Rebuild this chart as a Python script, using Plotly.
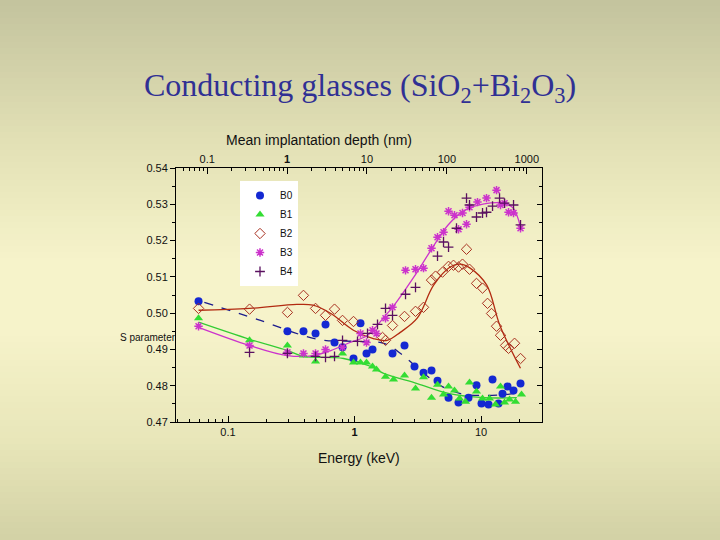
import plotly.graph_objects as go

# ---------------- data ----------------
b0_e = [0.0585, 0.295, 0.395, 0.492, 0.590, 0.695, 0.804, 0.982, 1.115, 1.244, 1.388, 1.997, 2.485, 2.981,
        3.512, 4.061, 4.530, 5.536, 6.64, 7.96, 9.21, 10.09, 11.47, 12.33, 13.75, 14.79, 16.20, 18.07, 20.52]
b0_s = [0.5033, 0.4950, 0.4950, 0.4944, 0.4969, 0.4919, 0.4906, 0.4875, 0.4972, 0.4889, 0.4900, 0.4889, 0.4911, 0.4853,
        0.4836, 0.4842, 0.4814, 0.4767, 0.4754, 0.4767, 0.4801, 0.4751, 0.4748, 0.4817, 0.4751, 0.4778, 0.4798, 0.4787, 0.4806]

b1_e = [0.0585, 0.148, 0.295, 0.395, 0.492, 0.804, 0.982, 1.115, 1.244, 1.388, 1.492, 1.758, 2.034, 2.485, 3.035, 3.512,
        4.061, 4.530, 5.053, 5.536, 6.17, 6.76, 7.54, 8.11, 9.21, 10.28, 11.67, 13.02, 14.26, 15.34, 16.80, 18.74, 20.90]
b1_s = [0.4986, 0.4925, 0.4911, 0.4883, 0.4867, 0.4889, 0.4864, 0.4864, 0.4864, 0.4853, 0.4845, 0.4825, 0.4817, 0.4828, 0.4792, 0.4823,
        0.4767, 0.4803, 0.4776, 0.4798, 0.4787, 0.4765, 0.4756, 0.4809, 0.4784, 0.4765, 0.4765, 0.4748, 0.4798, 0.4754, 0.4762, 0.4756, 0.4776]

b2_e = [0.0585, 0.148, 0.295, 0.395, 0.492, 0.590, 0.695, 0.804, 0.982, 1.665, 1.758, 1.997, 2.485, 3.035, 3.512, 4.061, 4.37,
        4.96, 5.536, 6.06, 6.64, 7.14, 7.68, 8.11, 9.21, 10.28, 11.26, 12.11, 13.26, 14.26, 15.62, 16.50, 18.41, 20.52]
b2_s = [0.5013, 0.5011, 0.5002, 0.5049, 0.5013, 0.4994, 0.5011, 0.4980, 0.4977, 0.4933, 0.4925, 0.4966, 0.4991, 0.5005, 0.5016, 0.5091, 0.5102,
        0.5113, 0.5129, 0.5132, 0.5127, 0.5135, 0.5176, 0.5121, 0.5082, 0.5069, 0.5027, 0.4999, 0.4964, 0.4939, 0.4911, 0.4903, 0.4917, 0.4875]

b3_e = [0.0585, 0.148, 0.295, 0.395, 0.492, 0.590, 0.804, 1.115, 1.244, 1.388, 1.492, 1.758, 1.997, 2.531, 3.035, 3.512, 4.061,
        4.530, 5.053, 5.536, 6.17, 6.64, 7.14, 7.68, 8.11, 9.38, 11.05, 13.26, 14.26, 15.34, 16.50, 18.07, 20.52]
b3_s = [0.4964, 0.4911, 0.4892, 0.4889, 0.4889, 0.4900, 0.4906, 0.4944, 0.4919, 0.4953, 0.4944, 0.4986, 0.5016, 0.5118, 0.5121, 0.5124, 0.5179,
        0.5209, 0.5223, 0.5281, 0.5270, 0.5231, 0.5276, 0.5245, 0.5292, 0.5306, 0.5317, 0.5339, 0.5298, 0.5303, 0.5278, 0.5276, 0.5234]

b4_e = [0.148, 0.295, 0.492, 0.590, 0.695, 0.804, 1.056, 1.267, 1.520, 1.758, 1.997, 2.531, 3.035, 4.530, 5.053, 5.536,
        6.40, 7.68, 8.11, 9.21, 10.28, 11.05, 12.33, 14.01, 15.34, 18.07, 20.52]
b4_s = [0.4892, 0.4889, 0.4881, 0.4878, 0.4881, 0.4925, 0.4922, 0.4944, 0.4969, 0.5013, 0.4994, 0.5052, 0.5071, 0.5157, 0.5196, 0.5182,
        0.5234, 0.5317, 0.5298, 0.5265, 0.5276, 0.5278, 0.5295, 0.5317, 0.5303, 0.5298, 0.5243]

# fitted curves
fit0_e = [0.065, 0.17, 0.51, 1.03, 1.70, 2.37, 3.32, 4.75, 6.9, 10.8, 18.4]
fit0_s = [0.5030, 0.4983, 0.4928, 0.4922, 0.4917, 0.4886, 0.4842, 0.4801, 0.4778, 0.4773, 0.4778]
fit1_e = [0.0585, 0.148, 0.295, 0.395, 0.82, 1.35, 1.70, 3.13, 5.63, 10.6, 19.2]
fit1_s = [0.4975, 0.4928, 0.4897, 0.4881, 0.4875, 0.4853, 0.4834, 0.4806, 0.4778, 0.4767, 0.4767]
fit2_e = [0.0585, 0.148, 0.35, 0.47, 0.65, 0.98, 1.41, 1.81, 2.30, 3.13, 4.22, 5.70, 6.8, 8.2, 11.1, 14.1, 20.5]
fit2_s = [0.5008, 0.5013, 0.5024, 0.5022, 0.4999, 0.4953, 0.4930, 0.4925, 0.4947, 0.4986, 0.5077, 0.5127, 0.5135, 0.5124, 0.5077, 0.4966, 0.4848]
fit3_e = [0.0585, 0.148, 0.295, 0.47, 0.65, 0.89, 1.27, 1.76, 2.0, 2.94, 4.01, 5.49, 7.47, 10.6, 14.8, 17.9, 20.5]
fit3_s = [0.4961, 0.4911, 0.4883, 0.4883, 0.4897, 0.4917, 0.4939, 0.4994, 0.5016, 0.5099, 0.5173, 0.5243, 0.5284, 0.5301, 0.5303, 0.5290, 0.5237]

names = ["B0", "B1", "B2", "B3", "B4"]
bottom_ticks = [0.1, 1, 10]
bottom_labels = ["0.1", "<b>1</b>", "10"]
top_ticks = [0.1, 1, 10, 100, 1000]
top_labels = ["0.1", "<b>1</b>", "10", "100", "1000"]
y_ticks = [0.47, 0.48, 0.49, 0.50, 0.51, 0.52, 0.53, 0.54]
y_labels = ["0.47", "0.48", "0.49", "0.50", "0.51", "0.52", "0.53", "0.54"]

# ---------------- figure ----------------
W, H = 720, 540
L, R, T, B = 176, 542, 168, 422
FONT = "Liberation Sans, Arial, sans-serif"

def log_minor(lo_dec, hi_dec, lo, hi):
    vals = []
    for d in range(lo_dec, hi_dec + 1):
        for m in range(2, 10):
            v = m * 10.0 ** d
            if lo <= v <= hi:
                vals.append(v)
    return vals

bottom_minor = log_minor(-2, 1, 0.039, 30)
top_minor = log_minor(-2, 3, 0.041, 1500)

fig = go.Figure()

# fit lines
fig.add_trace(go.Scatter(x=fit0_e, y=fit0_s, mode="lines", line=dict(color="#1c1c8c", width=1.3, dash="dash", shape="spline"),
                         showlegend=False, hoverinfo="skip"))
fig.add_trace(go.Scatter(x=fit1_e, y=fit1_s, mode="lines", line=dict(color="#33cc33", width=1.3, shape="spline"),
                         showlegend=False, hoverinfo="skip"))
fig.add_trace(go.Scatter(x=fit2_e, y=fit2_s, mode="lines", line=dict(color="#b22a10", width=1.3, shape="spline"),
                         showlegend=False, hoverinfo="skip"))
fig.add_trace(go.Scatter(x=fit3_e, y=fit3_s, mode="lines", line=dict(color="#cc33cc", width=1.3, shape="spline"),
                         showlegend=False, hoverinfo="skip"))

# data points
fig.add_trace(go.Scatter(x=b0_e, y=b0_s, mode="markers", name=names[0],
                         marker=dict(symbol="circle", size=8, color="#1428d2")))
fig.add_trace(go.Scatter(x=b1_e, y=b1_s, mode="markers", name=names[1],
                         marker=dict(symbol="triangle-up", size=8, color="#33dd33")))
fig.add_trace(go.Scatter(x=b2_e, y=b2_s, mode="markers", name=names[2],
                         marker=dict(symbol="diamond-open", size=8, color="#a83020", line=dict(width=1))))
fig.add_trace(go.Scatter(x=b3_e, y=b3_s, mode="markers", name=names[3],
                         marker=dict(symbol="asterisk-open", size=7, color="#cc33cc", line=dict(width=1.5, color="#cc33cc"))))
fig.add_trace(go.Scatter(x=b4_e, y=b4_s, mode="markers", name=names[4],
                         marker=dict(symbol="cross-thin-open", size=7, color="#5a1060", line=dict(width=1.3, color="#5a1060"))))

# dummy traces to activate top x axis and right y axis
fig.add_trace(go.Scatter(x=[1], y=[0.5], xaxis="x2", yaxis="y", mode="markers", marker=dict(opacity=0),
                         showlegend=False, hoverinfo="skip"))
fig.add_trace(go.Scatter(x=[1], y=[0.5], xaxis="x", yaxis="y2", mode="markers", marker=dict(opacity=0),
                         showlegend=False, hoverinfo="skip"))

# background gradient bands
def lerp(c1, c2, t):
    return tuple(round(a + (b - a) * t) for a, b in zip(c1, c2))

stops = [(0, (195, 195, 158)), (150, (228, 226, 182)), (260, (246, 243, 202)), (330, (246, 243, 202)),
         (440, (232, 230, 185)), (540, (210, 209, 165))]

def col_at(py):
    for (p0, c0), (p1, c1) in zip(stops[:-1], stops[1:]):
        if p0 <= py <= p1:
            return lerp(c0, c1, (py - p0) / (p1 - p0))
    return stops[-1][1]

shapes = []
pw, ph = R - L, B - T
step = 6
for py in range(0, H, step):
    c = col_at(py + step / 2)
    shapes.append(dict(type="rect", xref="paper", yref="paper", layer="below",
                       x0=(0 - L) / pw - 0.05, x1=(W - L) / pw + 0.05,
                       y0=(B - (py + step + 1)) / ph, y1=(B - py) / ph,
                       fillcolor="rgb(%d,%d,%d)" % c, line=dict(width=0)))

xr = [-1.411, 1.482]
fig.update_layout(
    width=W, height=H,
    margin=dict(l=L, r=W - R, t=T, b=H - B),
    paper_bgcolor="rgb(228,226,182)", plot_bgcolor="rgba(0,0,0,0)",
    font=dict(family=FONT, size=11, color="#111111"),
    shapes=shapes,
    xaxis=dict(type="log", range=xr, showgrid=False, zeroline=False, showline=True, linecolor="black", linewidth=1,
               ticks="inside", ticklen=6, tickcolor="black", tickvals=bottom_ticks, ticktext=bottom_labels,
               tickfont=dict(size=11),
               minor=dict(ticks="inside", ticklen=3, tickcolor="black", tickvals=bottom_minor, showgrid=False)),
    xaxis2=dict(type="log", range=[-1.39, 3.19], overlaying="x", side="top", showgrid=False, zeroline=False,
                showline=True, linecolor="black", linewidth=1, ticks="inside", ticklen=6, tickcolor="black",
                tickvals=top_ticks, ticktext=top_labels, tickfont=dict(size=11),
                minor=dict(ticks="inside", ticklen=3, tickcolor="black", tickvals=top_minor, showgrid=False)),
    yaxis=dict(range=[0.47, 0.54], showgrid=False, zeroline=False, showline=True, linecolor="black", linewidth=1,
               ticks="outside", ticklen=5, tickcolor="black", tickvals=y_ticks, ticktext=y_labels, tickfont=dict(size=11),
               minor=dict(ticks="outside", ticklen=3, tickcolor="black", dtick=0.005, showgrid=False)),
    yaxis2=dict(range=[0.47, 0.54], overlaying="y", side="right", showgrid=False, zeroline=False, showline=True,
                linecolor="black", linewidth=1, ticks="inside", ticklen=5, tickcolor="black", tickvals=y_ticks,
                showticklabels=False, minor=dict(ticks="inside", ticklen=3, tickcolor="black", dtick=0.005, showgrid=False)),
    legend=dict(x=(240 - L) / pw, y=(B - 181) / ph, xanchor="left", yanchor="top", bgcolor="white",
                borderwidth=0, font=dict(size=10, family=FONT), itemwidth=30, tracegroupgap=0),
    showlegend=True,
)

fig.add_annotation(text="Conducting glasses (SiO<sub>2</sub>+Bi<sub>2</sub>O<sub>3</sub>)", xref="paper", yref="paper",
                   x=(360 - L) / pw, y=(B - 88) / ph, xanchor="center", yanchor="middle", showarrow=False,
                   font=dict(family="Liberation Serif, Times New Roman, serif", size=32, color="#303094"))
fig.add_annotation(text="Mean implantation depth (nm)", xref="paper", yref="paper",
                   x=(319 - L) / pw, y=(B - 140) / ph, xanchor="center", yanchor="middle", showarrow=False,
                   font=dict(family=FONT, size=14, color="#111111"))
fig.add_annotation(text="Energy (keV)", xref="paper", yref="paper",
                   x=(359 - L) / pw, y=(B - 458) / ph, xanchor="center", yanchor="middle", showarrow=False,
                   font=dict(family=FONT, size=14, color="#111111"))
fig.add_annotation(text="S parameter", xref="paper", yref="paper",
                   x=(148 - L) / pw, y=(B - 337) / ph, xanchor="center", yanchor="middle", showarrow=False,
                   font=dict(family=FONT, size=10, color="#111111"))

fig.write_html("out.html", config={"displayModeBar": False},
               post_script="document.body.style.margin='0';document.body.style.overflow='hidden';")
